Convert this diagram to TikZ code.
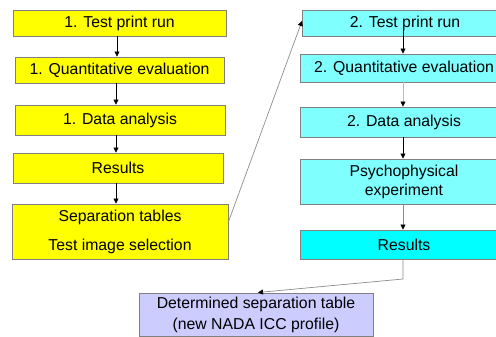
\documentclass[tikz,border=0pt]{standalone}
\usepackage{fontspec}
\setmainfont{Liberation Sans}
\usetikzlibrary{arrows.meta}
\definecolor{boxyellow}{RGB}{255,255,0}
\definecolor{lightcyan}{RGB}{128,255,255}
\definecolor{brightcyan}{RGB}{0,255,255}
\definecolor{lavender}{RGB}{204,204,255}
\definecolor{edgegray}{RGB}{128,128,128}
\definecolor{linegray}{RGB}{140,140,140}
\definecolor{palegray}{RGB}{185,185,185}
\tikzset{
  box/.style={draw=edgegray, line width=0.9pt, inner sep=0pt, align=center,
    font=\fontsize{15.8}{19}\selectfont},
  ybox/.style={box, fill=boxyellow},
  cbox/.style={box, fill=lightcyan},
  link/.style={line width=0.7pt, -{Triangle[length=5pt,width=5pt,color=black]}},
}
\begin{document}
\begin{tikzpicture}[x=1pt, y=-1pt]
\useasboundingbox (0,0) rectangle (496,337);
\clip (0,0) rectangle (496,337);

% first test run
\node[ybox, minimum width=213pt, minimum height=26pt] (l1) at (119.5,23) {1. Test print run};
\node[ybox, minimum width=209pt, minimum height=26pt] (l2) at (119.5,70) {1. Quantitative evaluation};
\node[ybox, minimum width=210pt, minimum height=30pt] (l3) at (120,120) {1. Data analysis};
\node[ybox, minimum width=210pt, minimum height=30pt] (l4) at (118,168) {Results};
\node[ybox, minimum width=216pt, minimum height=55pt,
      font=\fontsize{15.8}{29}\selectfont] (l5) at (120,231.5) {Separation tables\\Test image selection};

% second test run (boxes run past the right edge)
\node[cbox, minimum width=206pt, minimum height=26pt] (r1) at (405,23) {2. Test print run};
\node[cbox, minimum width=208pt, minimum height=28pt] (r2) at (404,68) {2. Quantitative evaluation};
\node[cbox, minimum width=208pt, minimum height=30pt] (r3) at (404,122) {2. Data analysis};
\node[cbox, minimum width=208pt, minimum height=45pt] (r4) at (404,181.5) {Psychophysical\\experiment};
\node[box, fill=brightcyan, minimum width=208pt, minimum height=29pt] (r5) at (404,244.5) {Results};

% final outcome
\node[box, fill=lavender, minimum width=234pt, minimum height=43pt,
      font=\fontsize{15.8}{21}\selectfont] (b) at (256,314.5) {Determined separation table\\(new NADA ICC profile)};

% connectors
\draw[link] (l1.south -| 117,0) -- (l2.north -| 117,0);
\draw[link] (l2.south -| 116,0) -- (l3.north -| 116,0);
\draw[link] (l3.south -| 116,0) -- (l4.north -| 116,0);
\draw[link] (l4.south -| 116,0) -- (l5.north -| 116,0);
\coordinate (l5out) at (228,223);
\coordinate (r1in) at (302,21);
\draw[link, draw=linegray] (l5out) -- (r1in);
\coordinate (r1from) at (403,27);
\draw[link] (r1from) -- (r2.north -| r1from);
\draw[link, draw=palegray] (r2.south -| r1from) -- (r3.north -| r1from);
\draw[link] (r3.south -| r1from) -- (r4.north -| r1from);
\draw[link, draw=linegray] (r4.south -| r1from) -- (r5.north -| r1from);
\coordinate (bend) at (403,279);
\coordinate (bin) at (258,292.5);
\draw[link, draw=linegray] (r5.south -| r1from) -- (bend) -- (bin);
\end{tikzpicture}
\end{document}
